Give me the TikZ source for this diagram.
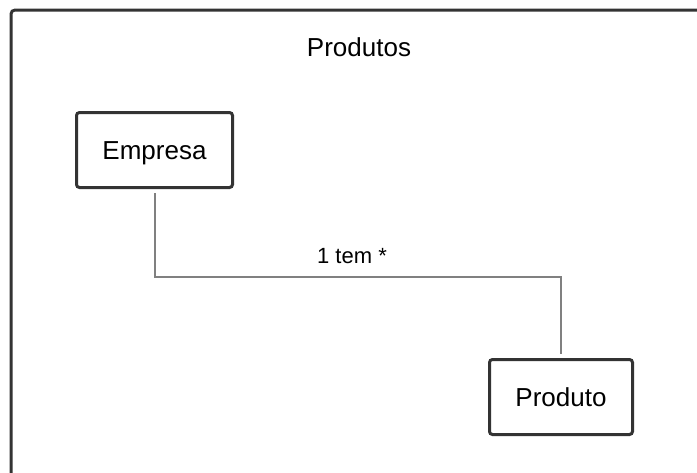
\documentclass[tikz,border=0pt]{standalone}
\usepackage{fontspec}
\setmainfont{Liberation Sans}
\begin{document}
\begin{tikzpicture}[x=1pt,y=-1pt,
  frame/.style={draw=black!80, line width=3pt, rounded corners=4pt},
  classbox/.style={draw=black!80, line width=3pt, rounded corners=3pt, fill=white,
    minimum width=156pt, minimum height=75pt, inner sep=0pt,
    font=\fontsize{26}{30}\selectfont, text height=19pt, text depth=-4pt},
  conn/.style={draw=black!50, line width=2pt},
  lbl/.style={font=\fontsize{22}{26}\selectfont, inner sep=0pt, anchor=base}]
  \useasboundingbox (0,0) rectangle (697,472);
  % package frame, running past the page edge on the right and at the bottom
  \begin{scope}
    \clip (0,0) rectangle (697,472);
    \draw[frame] (11,10) rectangle (720,500);
  \end{scope}
  \node[lbl, font=\fontsize{26}{30}\selectfont] (title) at (359,56) {Produtos};
  % classes
  \node[classbox] (emp) at (154.5,150) {Empresa};
  \node[classbox, minimum width=143pt, text depth=-9pt] (prod) at (561,397) {Produto};
  % association
  \coordinate (bend) at (350,277);
  \draw[conn] ([yshift=-4pt]emp.south) -- (emp.south |- bend) -| ([yshift=4pt]prod.north);
  \node[lbl] (assoc) at (352,263) {1 tem *};
\end{tikzpicture}
\end{document}
